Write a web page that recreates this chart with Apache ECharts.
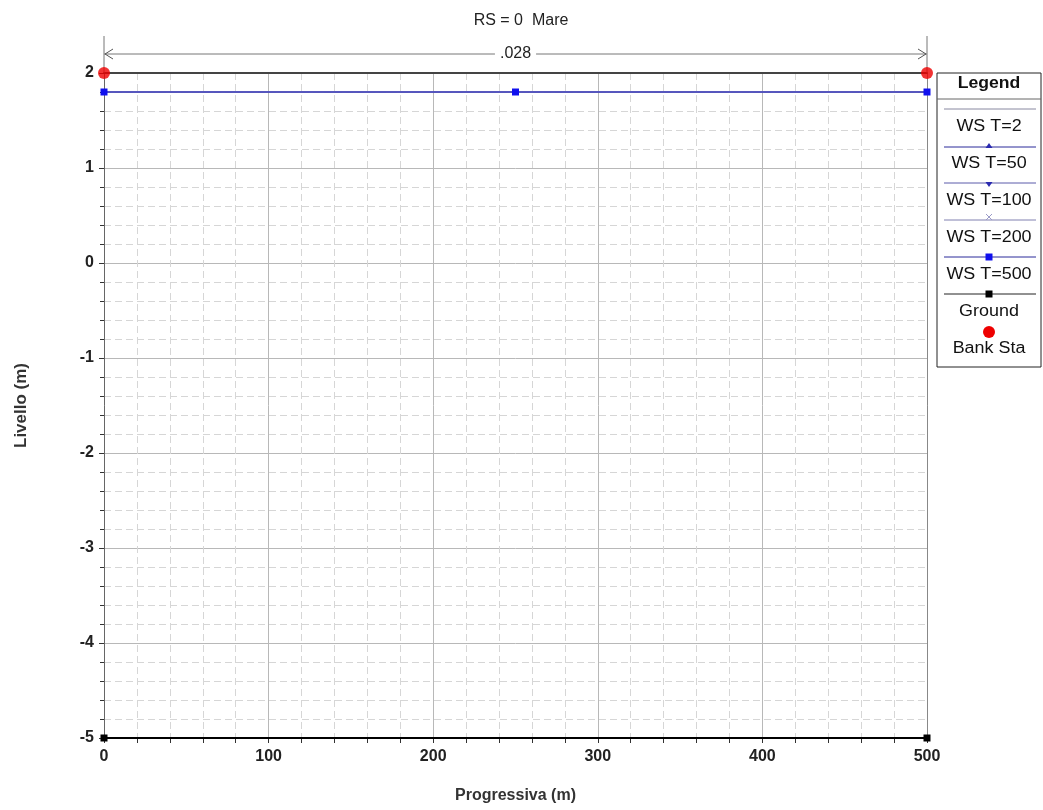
<!DOCTYPE html>
<html>
<head>
<meta charset="utf-8">
<script src="https://cdn.jsdelivr.net/npm/echarts@6/dist/echarts.min.js"></script>
<style>
  html, body { margin: 0; padding: 0; background: #fff; }
  #main { width: 1043px; height: 810px; }
</style>
</head>
<body>
<div id="main"></div>
<script>
// dati della sezione
const stations = [0, 250, 500];
const wsT2 = [1.8, 1.8, 1.8];
const wsT50 = [1.8, 1.8, 1.8];
const wsT100 = [1.8, 1.8, 1.8];
const wsT200 = [1.8, 1.8, 1.8];
const wsT500 = [1.8, 1.8, 1.8];
const groundX = [0, 500];
const groundY = [-5, -5];
const bankX = [0, 500];
const bankY = [2, 2];
const manningN = '.028';
const legendNames = ['WS T=2', 'WS T=50', 'WS T=100', 'WS T=200', 'WS T=500', 'Ground', 'Bank Sta'];

const FONT = '"Liberation Sans", Arial, sans-serif';

function pairs(xs, ys) {
  return xs.map((x, i) => [x, ys[i]]);
}

let myChart = echarts.init(document.getElementById('main'));

let option = {
  backgroundColor: '#fff',
  animation: false,
  title: {
    text: 'RS = 0  Mare',
    left: 516,
    textAlign: 'center',
    top: 8,
    textStyle: { fontFamily: FONT, fontSize: 16, fontWeight: 'normal', color: '#222' }
  },
  grid: { left: 104, right: 116, top: 73, bottom: 72 },
  xAxis: [
    {
      type: 'value', min: 0, max: 500, interval: 100,
      name: 'Progressiva (m)', nameLocation: 'middle', nameGap: 50,
      nameTextStyle: { fontFamily: FONT, fontSize: 16, fontWeight: 'bold', color: '#333' },
      axisLine: { show: true, onZero: false, lineStyle: { color: '#111', width: 2 } },
      axisTick: { show: true, length: 5, lineStyle: { color: '#333' } },
      minorTick: { show: true, splitNumber: 5, length: 5, lineStyle: { color: '#333' } },
      axisLabel: { margin: 11, fontFamily: FONT, fontSize: 16, fontWeight: 'bold', color: '#222' },
      splitLine: { show: true, lineStyle: { color: '#b8b8b8', width: 1 } },
      minorSplitLine: { show: true, lineStyle: { color: '#d6d6d6', type: [7, 4] } }
    },
    {
      type: 'value', min: 0, max: 500, position: 'top',
      axisLine: { show: true, onZero: false, lineStyle: { color: '#444', width: 2 } },
      axisTick: { show: false }, axisLabel: { show: false }, splitLine: { show: false }
    }
  ],
  yAxis: [
    {
      type: 'value', min: -5, max: 2, interval: 1,
      name: 'Livello (m)', nameLocation: 'middle', nameGap: 74,
      nameTextStyle: { fontFamily: FONT, fontSize: 17, fontWeight: 'bold', color: '#333' },
      axisLine: { show: true, onZero: false, lineStyle: { color: '#666', width: 1 } },
      axisTick: { show: true, length: 5, lineStyle: { color: '#333' } },
      minorTick: { show: true, splitNumber: 5, length: 4, lineStyle: { color: '#333' } },
      axisLabel: { margin: 10, fontFamily: FONT, fontSize: 16, fontWeight: 'bold', color: '#222' },
      splitLine: { show: true, lineStyle: { color: '#b8b8b8', width: 1 } },
      minorSplitLine: { show: true, lineStyle: { color: '#d6d6d6', type: [7, 4] } }
    },
    {
      type: 'value', min: -5, max: 2, position: 'right',
      axisLine: { show: true, onZero: false, lineStyle: { color: '#888', width: 1 } },
      axisTick: { show: false }, axisLabel: { show: false }, splitLine: { show: false }
    }
  ],
  series: [
    {
      name: 'WS T=2', type: 'line', data: pairs(stations, wsT2), showSymbol: false,
      lineStyle: { color: '#8888a0', width: 1 }
    },
    {
      name: 'WS T=50', type: 'line', data: pairs(stations, wsT50), showSymbol: false,
      lineStyle: { color: '#2a2a9a', width: 1 }
    },
    {
      name: 'WS T=100', type: 'line', data: pairs(stations, wsT100), showSymbol: false,
      lineStyle: { color: '#5a5aaa', width: 1 }
    },
    {
      name: 'WS T=200', type: 'line', data: pairs(stations, wsT200), showSymbol: false,
      lineStyle: { color: '#8080b0', width: 1 }
    },
    {
      name: 'WS T=500', type: 'line', data: pairs(stations, wsT500),
      symbol: 'rect', symbolSize: 7,
      itemStyle: { color: '#1010ee' },
      lineStyle: { color: '#3a3acc', width: 1 }
    },
    {
      name: 'Ground', type: 'line', data: pairs(groundX, groundY),
      symbol: 'rect', symbolSize: 7,
      itemStyle: { color: '#000' },
      lineStyle: { color: '#000', width: 2 }
    },
    {
      name: 'Bank Sta', type: 'scatter', data: pairs(bankX, bankY),
      symbol: 'circle', symbolSize: 12, z: 5,
      itemStyle: { color: '#ee0000' }
    }
  ]
};

myChart.setOption(option);

// quota della n di Manning sopra il grafico
const pL = myChart.convertToPixel({ xAxisIndex: 0, yAxisIndex: 0 }, [bankX[0], bankY[0]]);
const pR = myChart.convertToPixel({ xAxisIndex: 0, yAxisIndex: 0 }, [bankX[1], bankY[1]]);
const dimY = 54;
const gray = '#777';
let graphics = [
  { type: 'line', shape: { x1: pL[0], y1: 36, x2: pL[0], y2: pL[1] }, style: { stroke: gray, lineWidth: 1 }, z: 1 },
  { type: 'line', shape: { x1: pR[0], y1: 36, x2: pR[0], y2: pR[1] }, style: { stroke: gray, lineWidth: 1 }, z: 1 },
  { type: 'line', shape: { x1: pL[0], y1: dimY, x2: pR[0], y2: dimY }, style: { stroke: gray, lineWidth: 1 } },
  { type: 'polyline', shape: { points: [[pL[0] + 9, dimY - 5], [pL[0] + 1, dimY], [pL[0] + 9, dimY + 5]] }, style: { stroke: '#555', fill: null, lineWidth: 1 } },
  { type: 'polyline', shape: { points: [[pR[0] - 9, dimY - 5], [pR[0] - 1, dimY], [pR[0] - 9, dimY + 5]] }, style: { stroke: '#555', fill: null, lineWidth: 1 } },
  {
    type: 'text', x: (pL[0] + pR[0]) / 2, y: dimY,
    style: {
      text: manningN, align: 'center', verticalAlign: 'middle',
      font: '16px ' + FONT, fill: '#222', backgroundColor: '#fff', padding: [0, 5]
    }, z: 10
  }
];

// legenda a riquadro
const lx = 937, ly = 73, lw = 104, lh = 294, cx = lx + lw / 2;
graphics.push(
  { type: 'rect', shape: { x: lx, y: ly, width: lw, height: lh }, style: { stroke: '#222', fill: '#fff', lineWidth: 1 }, z: 20 },
  {
    type: 'text', x: cx, y: 84, scaleX: 1.1,
    style: { text: 'Legend', align: 'center', verticalAlign: 'middle', font: 'bold 16px ' + FONT, fill: '#111' }, z: 21
  },
  { type: 'line', shape: { x1: lx, y1: 99, x2: lx + lw, y2: 99 }, style: { stroke: '#666', lineWidth: 1 }, z: 21 }
);
const legLines = [
  { y: 109, color: '#8888a0', symbol: null },
  { y: 147, color: '#2a2a9a', symbol: 'triangle', symColor: '#2a2ab0' },
  { y: 183, color: '#5a5aaa', symbol: 'downTriangle', symColor: '#2a2ab0' },
  { y: 220, color: '#8080b0', symbol: 'cross', symColor: '#9a9ac8' },
  { y: 257, color: '#2a2a9a', symbol: 'rect', symColor: '#1010ee' },
  { y: 294, color: '#222', symbol: 'rect', symColor: '#000' },
  { y: 332, color: null, symbol: 'circle', symColor: '#ee0000' }
];
const legTextY = [127, 164, 201, 238, 275, 312, 349];
legLines.forEach((it, i) => {
  if (it.color) {
    graphics.push({ type: 'line', shape: { x1: 944, y1: it.y, x2: 1036, y2: it.y }, style: { stroke: it.color, lineWidth: 1 }, z: 21 });
  }
  if (it.symbol === 'triangle') {
    graphics.push({ type: 'polygon', shape: { points: [[cx, it.y - 4], [cx - 3.5, it.y + 1], [cx + 3.5, it.y + 1]] }, style: { fill: it.symColor }, z: 22 });
  } else if (it.symbol === 'downTriangle') {
    graphics.push({ type: 'polygon', shape: { points: [[cx, it.y + 4], [cx - 3.5, it.y - 1], [cx + 3.5, it.y - 1]] }, style: { fill: it.symColor }, z: 22 });
  } else if (it.symbol === 'cross') {
    graphics.push(
      { type: 'line', shape: { x1: cx - 3, y1: it.y - 6, x2: cx + 3, y2: it.y }, style: { stroke: it.symColor, lineWidth: 1 }, z: 22 },
      { type: 'line', shape: { x1: cx + 3, y1: it.y - 6, x2: cx - 3, y2: it.y }, style: { stroke: it.symColor, lineWidth: 1 }, z: 22 }
    );
  } else if (it.symbol === 'rect') {
    graphics.push({ type: 'rect', shape: { x: cx - 3.5, y: it.y - 3.5, width: 7, height: 7 }, style: { fill: it.symColor }, z: 22 });
  } else if (it.symbol === 'circle') {
    graphics.push({ type: 'circle', shape: { cx: cx, cy: it.y, r: 6 }, style: { fill: it.symColor }, z: 22 });
  }
  graphics.push({
    type: 'text', x: cx, y: legTextY[i], scaleX: 1.12,
    style: { text: legendNames[i], align: 'center', verticalAlign: 'middle', font: '16px ' + FONT, fill: '#111' }, z: 22
  });
});

myChart.setOption({ graphic: graphics });
</script>
</body>
</html>
